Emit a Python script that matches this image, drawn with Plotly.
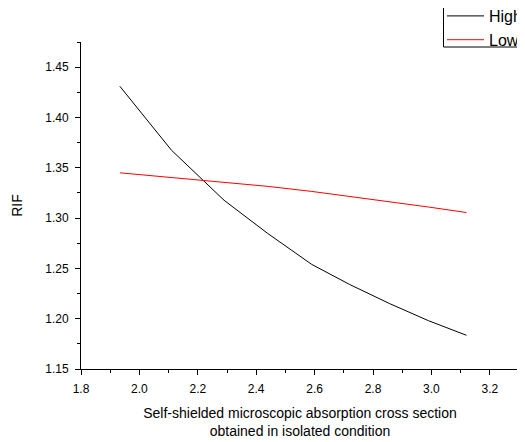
import plotly.graph_objects as go

x_vals = [1.933, 2.11, 2.29, 2.44, 2.59, 2.72, 2.857, 2.99, 3.12]
high = [1.431, 1.3674, 1.3177, 1.2846, 1.254, 1.234, 1.215, 1.198, 1.1835]
low = [1.345, 1.3405, 1.336, 1.3315, 1.3265, 1.3215, 1.3165, 1.311, 1.3055]

font = "Liberation Sans, Arial, sans-serif"

# The page body has an 8px default margin, so the figure is sized to end at the window edge.
W, H = 517, 434
L, R, T, B = 73, 6, 34, 73
plot_w = W - L - R
plot_h = H - T - B

def px_x(page_x):
    return (page_x - 8 - L) / plot_w

def px_y(page_y):
    return (H - B - (page_y - 8)) / plot_h

fig = go.Figure()
fig.add_trace(go.Scatter(x=x_vals, y=high, mode="lines", name="High",
                         line=dict(color="black", width=1)))
fig.add_trace(go.Scatter(x=x_vals, y=low, mode="lines", name="Low",
                         line=dict(color="red", width=1)))

fig.add_shape(type="rect", xref="paper", yref="paper",
              x0=px_x(443.5), x1=px_x(560), y0=px_y(47), y1=px_y(7),
              line=dict(color="black", width=1), fillcolor="rgba(0,0,0,0)", layer="above")

fig.update_layout(
    width=W, height=H,
    margin=dict(l=L, r=R, t=T, b=B, autoexpand=False),
    paper_bgcolor="white", plot_bgcolor="white",
    font=dict(family=font, size=12, color="black"),
    showlegend=True,
    legend=dict(x=px_x(442), y=px_y(-1), xanchor="left", yanchor="top",
                borderwidth=0, bgcolor="rgba(0,0,0,0)",
                font=dict(size=16, family=font), tracegroupgap=0,
                itemwidth=37),
    xaxis=dict(range=[1.8, 3.3], dtick=0.2, tick0=1.8, tickformat=".1f",
               automargin=False, ticklabelstandoff=4,
               showgrid=False, zeroline=False, showline=True, linecolor="black",
               linewidth=1, ticks="outside", ticklen=5, tickcolor="black",
               minor=dict(dtick=0.1, ticks="outside", ticklen=3, tickcolor="black"),
               title=dict(text="Self-shielded microscopic absorption cross section<br>obtained in isolated condition",
                          font=dict(size=14, family=font), standoff=12)),
    yaxis=dict(range=[1.15, 1.475], dtick=0.05, tick0=1.15, tickformat=".2f",
               automargin=False, ticklabelstandoff=4,
               showgrid=False, zeroline=False, showline=True, linecolor="black",
               linewidth=1, ticks="outside", ticklen=5, tickcolor="black",
               minor=dict(dtick=0.025, ticks="outside", ticklen=3, tickcolor="black"),
               title=dict(text="RIF", font=dict(size=14, family=font), standoff=19)),
)

fig.write_html("out.html")
